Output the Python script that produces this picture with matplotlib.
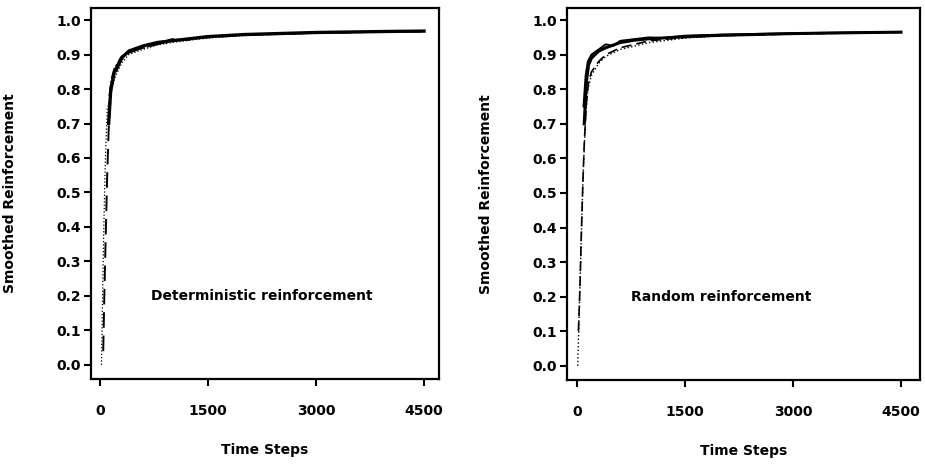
import matplotlib
matplotlib.use("Agg")
import matplotlib.pyplot as plt

plt.rcParams['font.family'] = ['DejaVu Sans']
plt.rcParams['font.weight'] = 'bold'
plt.rcParams['font.size'] = 10

# deterministic reinforcement runs (time step, smoothed reinforcement)
det_a_t = [120, 150, 200, 300, 400, 600, 800, 1000, 1500, 2000, 3000, 4000, 4500]
det_a_y = [0.70, 0.80, 0.85, 0.89, 0.91, 0.925, 0.935, 0.94, 0.952, 0.958, 0.964, 0.967, 0.968]
det_b_t = [45, 60, 80, 100, 120, 150, 200, 300, 400, 600, 800, 1000, 1500, 2000, 3000, 4500]
det_b_y = [0.04, 0.20, 0.38, 0.55, 0.68, 0.79, 0.84, 0.885, 0.905, 0.92, 0.93, 0.94, 0.95, 0.957, 0.963, 0.968]
det_c_t = [20, 28, 40, 55, 75, 100, 200, 300, 400, 600, 800, 1000, 1500, 2000, 3000, 4500]
det_c_y = [0.0, 0.10, 0.25, 0.42, 0.60, 0.74, 0.83, 0.875, 0.90, 0.915, 0.928, 0.935, 0.948, 0.955, 0.962, 0.967]
det_d_t = [130, 160, 200, 300, 400, 500, 600, 800, 1000, 1200, 1500, 2000, 3000, 4500]
det_d_y = [0.78, 0.83, 0.86, 0.895, 0.905, 0.92, 0.918, 0.932, 0.945, 0.942, 0.953, 0.957, 0.963, 0.967]

# random reinforcement runs
rnd_a_t = [100, 130, 160, 200, 300, 400, 600, 800, 1000, 1500, 2000, 3000, 4000, 4500]
rnd_a_y = [0.70, 0.82, 0.87, 0.89, 0.91, 0.92, 0.935, 0.942, 0.946, 0.952, 0.956, 0.961, 0.964, 0.965]
rnd_b_t = [20, 40, 60, 80, 100, 130, 160, 200, 300, 400, 600, 800, 1000, 1500, 2000, 3000, 4500]
rnd_b_y = [0.10, 0.22, 0.38, 0.52, 0.64, 0.76, 0.82, 0.85, 0.88, 0.90, 0.92, 0.93, 0.94, 0.95, 0.955, 0.96, 0.965]
rnd_c_t = [10, 30, 50, 70, 90, 120, 150, 200, 300, 400, 600, 800, 1000, 1500, 2000, 3000, 4500]
rnd_c_y = [0.0, 0.15, 0.30, 0.45, 0.58, 0.72, 0.80, 0.84, 0.875, 0.895, 0.915, 0.925, 0.935, 0.948, 0.955, 0.961, 0.966]
rnd_d_t = [90, 120, 150, 200, 300, 400, 500, 600, 800, 1000, 1200, 1500, 2000, 3000, 4500]
rnd_d_y = [0.75, 0.84, 0.88, 0.90, 0.915, 0.93, 0.925, 0.94, 0.945, 0.95, 0.948, 0.955, 0.958, 0.962, 0.966]

x_ticks = [0, 1500, 3000, 4500]
y_ticks = [0.0, 0.1, 0.2, 0.3, 0.4, 0.5, 0.6, 0.7, 0.8, 0.9, 1.0]

fig = plt.figure(figsize=(9.25, 4.67), dpi=100)
W, H = 925, 467
ax1 = fig.add_axes([91 / W, (H - 379) / H, (439 - 91) / W, (379 - 8) / H])
ax2 = fig.add_axes([567 / W, (H - 380) / H, (920 - 567) / W, (380 - 8) / H])

panels = [
    (ax1, [(det_c_t, det_c_y, ':', 0.9), (det_b_t, det_b_y, (0, (8, 4)), 1.4),
           (det_d_t, det_d_y, '-.', 1.2), (det_a_t, det_a_y, '-', 2.4)],
     "Deterministic reinforcement", 2250, (-125, 4708), -0.212),
    (ax2, [(rnd_c_t, rnd_c_y, ':', 1.0), (rnd_b_t, rnd_b_y, (0, (6, 3)), 1.2),
           (rnd_d_t, rnd_d_y, '-', 1.4), (rnd_a_t, rnd_a_y, '-', 2.2)],
     "Random reinforcement", 2000, (-139, 4764), -0.21),
]

for ax, runs, label, tx, xl, lx in panels:
    for t, y, ls, lw in runs:
        ax.plot(t, y, color='black', linestyle=ls, linewidth=lw)
    ax.text(tx, 0.2, label, ha='center', va='center', fontsize=10, fontweight='bold')
    ax.set_xlim(*xl)
    ax.set_ylim(-0.041, 1.035)
    ax.set_xticks(x_ticks)
    ax.set_yticks(y_ticks)
    ax.set_yticklabels([f"{v:.1f}" for v in y_ticks])
    ax.tick_params(direction='out', length=5, width=1.5, pad=2)
    ax.tick_params(axis='x', pad=13)
    for s in ax.spines.values():
        s.set_linewidth(1.6)
    ax.set_xlabel("Time Steps", fontweight='bold', labelpad=18)
    ax.set_ylabel("Smoothed Reinforcement", fontweight='bold')
    ax.yaxis.set_label_coords(lx, 0.5)

fig.savefig("out.png", dpi=100)
